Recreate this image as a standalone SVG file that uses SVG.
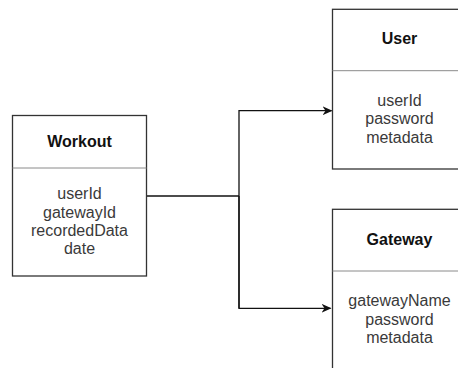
<svg xmlns="http://www.w3.org/2000/svg" width="458" height="368" viewBox="0 0 458 368">
  <style>
    .box { fill: #ffffff; stroke: #333333; stroke-width: 1.3; }
    .div { stroke: #8a8a8a; stroke-width: 1; fill: none; }
    .title { font-family: "Liberation Sans", Arial, sans-serif; font-size: 16px; font-weight: bold; fill: #111111; text-anchor: middle; }
    .field { font-family: "Liberation Sans", Arial, sans-serif; font-size: 16px; fill: #3a3a3a; text-anchor: middle; }
    .conn { fill: none; stroke: #111111; stroke-width: 1.3; }
  </style>
  <defs>
    <marker id="arrow" viewBox="0 0 10 10" refX="9" refY="5" markerWidth="10" markerHeight="9" markerUnits="userSpaceOnUse" orient="auto" preserveAspectRatio="none">
      <path d="M0,0 L10,5 L0,10 L3,5 Z" fill="#111111"/>
    </marker>
  </defs>
  <rect width="458" height="368" fill="#ffffff"/>

  <g id="connectors">
    <polyline class="conn" points="146.5,196 239,196"/>
    <polyline class="conn" points="239,308.3 239,110.7 331.5,110.7" marker-end="url(#arrow)"/>
    <polyline class="conn" points="239,196 239,308.3 330.5,308.3" marker-end="url(#arrow)"/>
  </g>

  <g id="workout">
    <rect class="box" x="12.5" y="115.5" width="134" height="160.5"/>
    <line class="div" x1="12.5" y1="168" x2="146.5" y2="168"/>
    <text class="title" x="79.5" y="147.3">Workout</text>
    <text class="field" x="79.5" y="199.3">userId</text>
    <text class="field" x="79.5" y="217.7">gatewayId</text>
    <text class="field" x="79.5" y="236">recordedData</text>
    <text class="field" x="79.5" y="254.4">date</text>
  </g>

  <g id="user">
    <rect class="box" x="332.5" y="9.3" width="134" height="159.7"/>
    <line class="div" x1="332.5" y1="70.7" x2="466.5" y2="70.7"/>
    <text class="title" x="399.5" y="44.3">User</text>
    <text class="field" x="399.5" y="105.7">userId</text>
    <text class="field" x="399.5" y="124.2">password</text>
    <text class="field" x="399.5" y="142.7">metadata</text>
  </g>

  <g id="gateway">
    <rect class="box" x="332.5" y="209.3" width="134" height="170"/>
    <line class="div" x1="332.5" y1="271" x2="466.5" y2="271"/>
    <text class="title" x="399.5" y="245.3">Gateway</text>
    <text class="field" x="399.5" y="306">gatewayName</text>
    <text class="field" x="399.5" y="324.5">password</text>
    <text class="field" x="399.5" y="343">metadata</text>
  </g>
</svg>
